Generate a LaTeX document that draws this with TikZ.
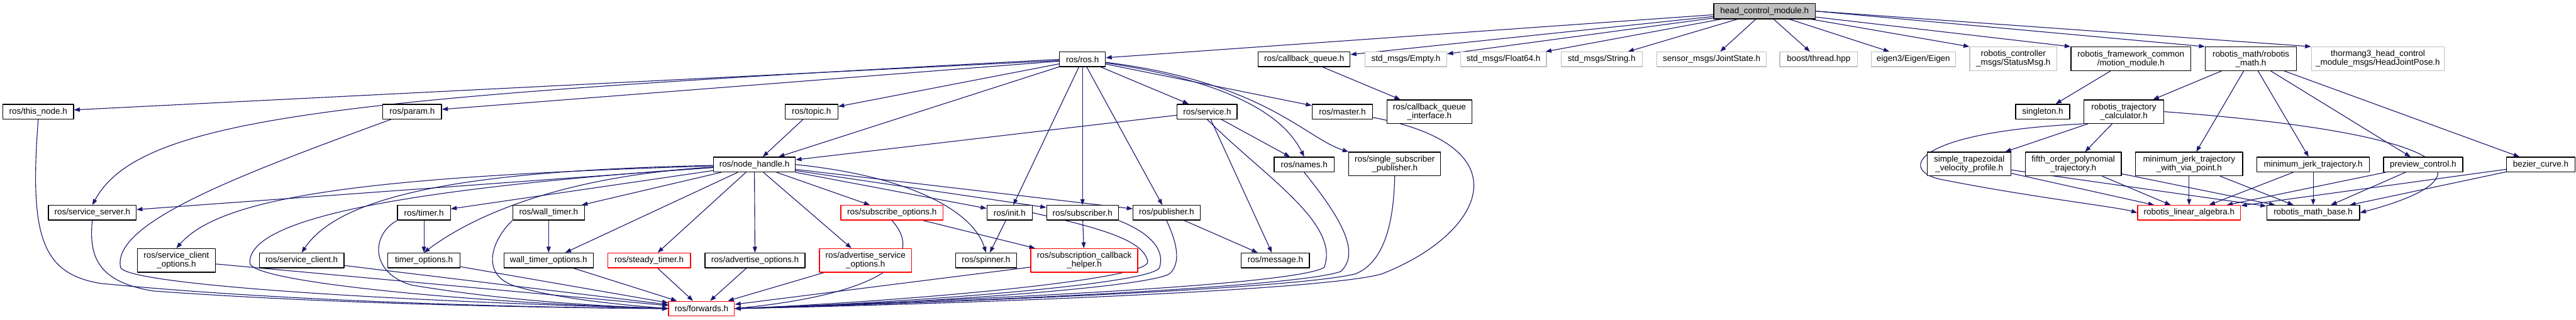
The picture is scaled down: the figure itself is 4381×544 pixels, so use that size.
\documentclass[tikz,border=0pt]{standalone}
\usepackage{fontspec}
\setmainfont{Liberation Sans}
\usetikzlibrary{arrows.meta}

\definecolor{edgeblue}{HTML}{191970}
\definecolor{nofile}{HTML}{BFBFBF}
\definecolor{cutred}{HTML}{FF0000}
\pgfdeclarelayer{bg}
\pgfsetlayers{bg,main}

\begin{document}
\begin{tikzpicture}[
    x=0.5pt, y=-0.5pt, line join=round,
    hfile/.style ={draw=black, fill=white, line width=0.7pt, inner sep=1pt, minimum height=12.5pt,
                   align=center, font=\fontsize{7.2}{7.5}\selectfont},
    hgray/.style ={hfile, draw=nofile},
    hred/.style  ={hfile, draw=cutred},
    two/.style   ={minimum height=20pt},
    wd/.style    ={minimum width=#1*0.5pt},
    dep/.style   ={draw=edgeblue, line width=0.6pt, -{Triangle[length=5pt, width=3.6pt]}}
]
\useasboundingbox (0,0) rectangle (4381,544);

% top file
\node[hfile, fill=nofile, wd=173, minimum height=13pt] (hcm) at (3001,19) {head\_control\_module.h};

% direct includes
\node[hfile, wd=78]  (ros)    at (1841,101) {ros/ros.h};
\node[hfile, wd=156] (cbq)    at (2218,101) {ros/callback\_queue.h};
\node[hgray, wd=139] (empty)  at (2391,101) {std\_msgs/Empty.h};
\node[hgray, wd=146] (float)  at (2557,101) {std\_msgs/Float64.h};
\node[hgray, wd=138] (string) at (2724,101) {std\_msgs/String.h};
\node[hgray, wd=186] (joint)  at (2911,101) {sensor\_msgs/JointState.h};
\node[hgray, wd=132] (boost)  at (3093,101) {boost/thread.hpp};
\node[hgray, wd=143] (eigen)  at (3254,101) {eigen3/Eigen/Eigen};
\node[hgray, two, wd=148] (status) at (3424,100) {robotis\_controller\\\_msgs/StatusMsg.h};
\node[hfile, two, wd=204] (motion) at (3624,100) {robotis\_framework\_common\\/motion\_module.h};
\node[hfile, two, wd=155] (rmath)  at (3828,100) {robotis\_math/robotis\\\_math.h};
\node[hgray, two, wd=226] (hjp)    at (4044,100) {thormang3\_head\_control\\\_module\_msgs/HeadJointPose.h};

% third row
\node[hfile, wd=120] (thisnode) at (65,190)   {ros/this\_node.h};
\node[hfile, wd=100] (param)    at (701,190)  {ros/param.h};
\node[hfile, wd=90]  (topic)    at (1380,190) {ros/topic.h};
\node[hfile, wd=102] (service)  at (2053,190) {ros/service.h};
\node[hfile, wd=103] (master)   at (2283,190) {ros/master.h};
\node[hfile, two, wd=144] (cbqi)     at (2431,190) {ros/callback\_queue\\\_interface.h};
\node[hfile, wd=92]  (singleton) at (3474,190) {singleton.h};
\node[hfile, two, wd=136] (trajcalc) at (3612,190) {robotis\_trajectory\\\_calculator.h};

% fourth row
\node[hfile, wd=139] (nh)      at (1283,280) {ros/node\_handle.h};
\node[hfile, wd=102] (names)   at (2218,280) {ros/names.h};
\node[hfile, two, wd=156] (ssp)   at (2372,279) {ros/single\_subscriber\\\_publisher.h};
\node[hfile, two, wd=142] (trap)  at (3349,279) {simple\_trapezoidal\\\_velocity\_profile.h};
\node[hfile, two, wd=163] (fifth) at (3526,279) {fifth\_order\_polynomial\\\_trajectory.h};
\node[hfile, two, wd=182] (mjvia) at (3723,279) {minimum\_jerk\_trajectory\\\_with\_via\_point.h};
\node[hfile, wd=191] (mj)      at (3934,280) {minimum\_jerk\_trajectory.h};
\node[hfile, wd=135] (preview) at (4121,280) {preview\_control.h};
\node[hfile, wd=116] (bezier)  at (4321,280) {bezier\_curve.h};

% fifth row
\node[hfile, wd=149] (srvserver)  at (157,362)  {ros/service\_server.h};
\node[hfile, wd=90]  (timer)      at (721,362)  {ros/timer.h};
\node[hfile, wd=122] (walltimer)  at (933,362)  {ros/wall\_timer.h};
\node[hred,  wd=174] (subopts)    at (1517,362) {ros/subscribe\_options.h};
\node[hfile, wd=77]  (init)       at (1717,362) {ros/init.h};
\node[hfile, wd=122] (subscriber) at (1841,362) {ros/subscriber.h};
\node[hfile, wd=114] (publisher)  at (1984,362) {ros/publisher.h};
\node[hred,  wd=175] (linalg)     at (3723,362) {robotis\_linear\_algebra.h};
\node[hfile, wd=158] (mathbase)   at (3934,362) {robotis\_math\_base.h};

% sixth row
\node[hfile, two, wd=132] (srvclientopts) at (300,443) {ros/service\_client\\\_options.h};
\node[hfile, wd=144] (srvclient)     at (513,443)  {ros/service\_client.h};
\node[hfile, wd=123] (timeropts)     at (721,443)  {timer\_options.h};
\node[hfile, wd=152] (walltimeropts) at (933,443)  {wall\_timer\_options.h};
\node[hred,  wd=141] (steady)        at (1104,443) {ros/steady\_timer.h};
\node[hfile, wd=170] (advopts)       at (1284,443) {ros/advertise\_options.h};
\node[hred, two, wd=157] (advsrvopts) at (1472,443) {ros/advertise\_service\\\_options.h};
\node[hfile, wd=104] (spinner)       at (1677,443) {ros/spinner.h};
\node[hred, two, wd=182] (subcb)     at (1844,443) {ros/subscription\_callback\\\_helper.h};
\node[hfile, wd=116] (message)       at (2169,443) {ros/message.h};

% bottom
\node[hred, wd=112] (forwards) at (1193,525) {ros/forwards.h};

\begin{pgfonlayer}{bg}
% head_control_module.h includes
\foreach \tgt in {ros,cbq,empty,float,string,joint,boost,eigen}
  \draw[dep] (hcm) -- (\tgt);
\draw[dep] (hcm) -- (status.north west);
\draw[dep] (hcm) -- (motion.north west);
\draw[dep] (hcm.east) -- (rmath.north west);
\draw[dep] (hcm.east) -- (hjp.north west);

% ros/ros.h
\foreach \tgt in {thisnode,param,topic,nh,service,master,init,subscriber,publisher}
  \draw[dep] (ros) -- (\tgt);
\draw[dep] (ros.west) .. controls (600,165) and (240,195) .. (srvserver.north);
\draw[dep] (ros) .. controls (2100,140) and (2185,200) .. (names.north);
\draw[dep] (ros) .. controls (2150,140) and (2220,235) .. (ssp.north west);

\draw[dep] (cbq) -- (cbqi);
\draw[dep] (topic) -- (nh);
\foreach \tgt in {nh,names,message}
  \draw[dep] (service) -- (\tgt);

% ros/node_handle.h
\foreach \tgt in {srvserver,timer,walltimer,walltimeropts,steady,advopts,advsrvopts,subopts,init,subscriber,publisher}
  \draw[dep] (nh) -- (\tgt);
\draw[dep] (nh) .. controls (650,300) and (380,330) .. (srvclientopts.north);
\draw[dep] (nh) .. controls (800,290) and (580,330) .. (srvclient.north);
\draw[dep] (nh) .. controls (950,300) and (800,370) .. (timeropts.north);
\draw[dep] (nh.east) .. controls (1550,300) and (1655,360) .. (spinner.north);

\draw[dep] (timer) -- (timeropts);
\draw[dep] (walltimer) -- (walltimeropts);
\draw[dep] (subopts) -- (subcb);
\draw[dep] (subscriber) -- (subcb);
\draw[dep] (init) -- (spinner);
\draw[dep] (publisher) -- (message);

% into ros/forwards.h, left side
\draw[dep] (thisnode.south) .. controls (50,400) and (70,465) .. (170,482) .. controls (500,515) and (950,524) .. (forwards.west);
\draw[dep] (param) .. controls (400,300) and (190,380) .. (205,455) .. controls (215,482) and (600,510) .. (forwards.west);
\draw[dep] (srvserver.south) .. controls (150,440) and (170,480) .. (260,495) .. controls (600,520) and (1000,524) .. (forwards.west);
\draw[dep] (nh) .. controls (700,320) and (420,370) .. (425,448) .. controls (430,480) and (800,515) .. (forwards.west);
\draw[dep] (timer.south west) .. controls (630,400) and (630,465) .. (700,485) .. controls (850,510) and (1000,520) .. (forwards.west);
\draw[dep] (walltimer.south west) .. controls (835,410) and (815,470) .. (880,488) .. controls (950,508) and (1050,518) .. (forwards.west);
\foreach \src in {srvclientopts,srvclient,timeropts,walltimeropts,steady,advopts,advsrvopts,subcb}
  \draw[dep] (\src) -- (forwards);

% into ros/forwards.h, right side
\draw[dep] (subopts.south) .. controls (1575,440) and (1500,500) .. (forwards.east);
\draw[dep] (init.east) .. controls (1880,390) and (1945,410) .. (1952,445) .. controls (1955,478) and (1500,515) .. (forwards.east);
\draw[dep] (subscriber.south east) .. controls (1965,400) and (1980,430) .. (1972,455) .. controls (1962,485) and (1500,518) .. (forwards.east);
\draw[dep] (publisher.south) .. controls (2000,410) and (2010,445) .. (1990,465) .. controls (1960,490) and (1500,520) .. (forwards.east);
\draw[dep] (service.south) .. controls (2150,300) and (2280,380) .. (2252,455) .. controls (2200,487) and (1600,512) .. (forwards.east);
\draw[dep] (names.south) .. controls (2280,370) and (2315,430) .. (2280,462) .. controls (2200,490) and (1600,515) .. (forwards.east);
\draw[dep] (ssp.south) .. controls (2370,400) and (2345,450) .. (2305,466) .. controls (2200,492) and (1600,515) .. (forwards.east);
\draw[dep] (master) .. controls (2600,250) and (2520,400) .. (2350,466) .. controls (2250,495) and (1600,518) .. (forwards.east);

% robotis side
\draw[dep] (motion) -- (singleton);
\foreach \tgt in {trajcalc,mjvia,mj,preview,bezier}
  \draw[dep] (rmath) -- (\tgt);
\draw[dep] (trajcalc) -- (trap);
\draw[dep] (trajcalc) -- (fifth);
\draw[dep] (trajcalc.south west) .. controls (3250,225) and (3230,290) .. (3300,305) .. controls (3450,335) and (3600,352) .. (linalg.west);
\draw[dep] (trajcalc.east) .. controls (4150,225) and (4265,295) .. (mathbase.east);
\foreach \src in {trap,fifth,mjvia,mj,preview,bezier}{
  \draw[dep] (\src) -- (linalg);
  \draw[dep] (\src) -- (mathbase);
}
\end{pgfonlayer}
\end{tikzpicture}
\end{document}
